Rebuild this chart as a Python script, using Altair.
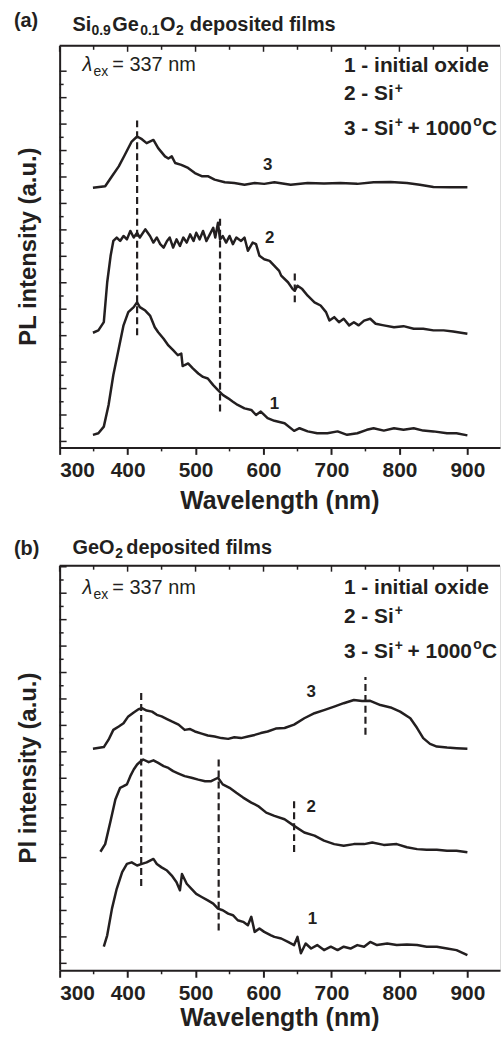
import altair as alt
import pandas as pd

INK = "#231f20"
FONT = "Liberation Sans"

# ---------------- panel (a): Si0.9Ge0.1O2 deposited films ----------------
a3 = [(349,9.59),(367,9.65),(377,10.03),(387,10.40),(396,10.84),(406,11.34),(414,11.53),(421,11.43),(428,11.28),(438,11.40),(445,11.09),(455,10.78),(460,10.70),(465,10.78),(470,10.53),(479,10.46),(489,10.34),(499,10.15),(509,10.03),(518,10.03),(528,9.90),(543,9.80),(557,9.77),(572,9.71),(587,9.77),(601,9.74),(616,9.80),(640,9.71),(665,9.77),(689,9.75),(713,9.77),(738,9.74),(762,9.80),(787,9.81),(811,9.77),(830,9.71),(850,9.62),(874,9.61),(900,9.61)]
a2 = [(349,4.11),(357,4.20),(365,4.51),(370,6.02),(375,7.02),(379,7.58),(384,7.71),(389,7.58),(394,7.77),(399,7.64),(404,7.96),(409,7.71),(414,7.89),(418,7.71),(426,8.02),(433,7.77),(438,7.52),(443,7.71),(448,7.46),(453,7.33),(458,7.58),(462,7.71),(467,7.33),(472,7.64),(477,7.39),(482,7.71),(487,7.52),(492,7.83),(497,7.58),(501,7.89),(506,7.64),(511,7.96),(516,7.58),(521,7.83),(526,8.08),(529,7.71),(533,8.27),(536,7.64),(540,7.77),(545,7.52),(550,7.77),(555,7.46),(560,7.71),(567,7.58),(572,7.71),(577,7.21),(584,7.52),(589,7.46),(594,7.02),(601,6.89),(609,6.83),(616,6.64),(623,6.45),(626,6.27),(636,6.02),(643,5.76),(646,5.70),(650,5.89),(657,5.76),(665,5.51),(675,5.26),(684,5.14),(692,4.89),(697,4.57),(704,4.70),(711,4.51),(718,4.64),(726,4.39),(733,4.51),(740,4.39),(748,4.57),(757,4.64),(765,4.45),(777,4.39),(792,4.32),(806,4.36),(821,4.26),(835,4.26),(850,4.20),(865,4.20),(879,4.16),(900,4.07)]
a1 = [(349,0.25),(357,0.31),(365,0.56),(372,1.38),(379,2.51),(387,3.51),(394,4.39),(401,4.89),(409,5.08),(414,5.26),(418,5.08),(426,4.95),(433,4.76),(440,4.32),(445,4.13),(453,3.88),(460,3.63),(467,3.45),(474,3.26),(479,3.32),(481,2.85),(484,2.89),(489,2.95),(496,2.76),(504,2.57),(511,2.44),(518,2.38),(526,2.13),(533,1.94),(540,1.76),(548,1.63),(555,1.50),(562,1.38),(572,1.25),(582,1.19),(589,1.00),(596,1.13),(606,0.88),(616,0.78),(631,0.69),(645,0.40),(653,0.50),(665,0.38),(679,0.31),(694,0.31),(709,0.38),(723,0.25),(738,0.31),(752,0.44),(762,0.50),(777,0.41),(792,0.50),(806,0.44),(821,0.50),(835,0.41),(850,0.38),(870,0.31),(884,0.31),(900,0.23)]
a_dashes = [(414, 4.02, 12.29), (536, 1.13, 8.53), (646, 5.26, 6.50)]
a_labels = [("3", 606, 10.45), ("2", 609, 7.71), ("1", 616, 1.43)]

# ---------------- panel (b): GeO2 deposited films ----------------
b3 = [(349,8.12),(365,8.18),(372,8.46),(379,8.83),(387,8.96),(394,9.08),(401,9.34),(409,9.49),(416,9.61),(421,9.65),(428,9.56),(436,9.52),(443,9.40),(450,9.34),(458,9.24),(465,9.15),(475,9.03),(484,8.83),(492,8.86),(499,8.77),(509,8.69),(518,8.62),(528,8.58),(538,8.52),(548,8.49),(557,8.55),(567,8.52),(577,8.58),(587,8.64),(596,8.71),(606,8.77),(618,8.88),(631,8.90),(645,9.03),(660,9.27),(675,9.46),(689,9.58),(704,9.71),(718,9.84),(733,9.96),(745,9.92),(757,9.93),(772,9.77),(787,9.68),(801,9.52),(816,9.27),(826,8.90),(835,8.52),(845,8.30),(855,8.20),(870,8.16),(884,8.14),(900,8.12)]
b2 = [(360,4.22),(367,4.51),(375,5.39),(382,6.20),(389,6.64),(394,6.70),(399,6.77),(404,7.08),(409,7.33),(414,7.52),(419,7.64),(423,7.71),(431,7.61),(438,7.68),(445,7.58),(453,7.46),(460,7.39),(467,7.27),(475,7.18),(484,7.08),(494,7.02),(504,6.95),(514,6.89),(523,6.89),(533,7.02),(540,6.77),(550,6.64),(560,6.45),(570,6.27),(582,6.08),(592,5.95),(604,5.70),(616,5.58),(631,5.45),(645,5.20),(660,4.95),(675,4.83),(689,4.64),(704,4.51),(718,4.45),(733,4.51),(748,4.51),(760,4.57),(777,4.48),(796,4.51),(811,4.39),(826,4.32),(840,4.30),(855,4.30),(870,4.26),(884,4.26),(900,4.20)]
b1 = [(365,0.63),(370,1.06),(377,2.07),(384,2.82),(392,3.45),(399,3.76),(406,3.82),(414,3.70),(421,3.76),(428,3.82),(438,3.95),(443,3.76),(450,3.63),(458,3.51),(465,3.32),(472,3.07),(477,2.76),(480,3.38),(487,3.01),(494,2.82),(501,2.63),(509,2.51),(518,2.38),(526,2.26),(533,2.07),(540,2.01),(548,1.88),(555,1.82),(562,1.63),(570,1.57),(577,1.44),(582,1.76),(587,1.19),(594,1.32),(601,1.19),(611,1.06),(616,1.00),(626,0.94),(636,0.81),(645,0.69),(650,1.00),(655,0.38),(662,0.75),(670,0.56),(679,0.69),(689,0.50),(699,0.63),(709,0.50),(718,0.63),(728,0.56),(738,0.69),(748,0.63),(757,0.81),(767,0.69),(782,0.75),(796,0.69),(811,0.71),(826,0.69),(840,0.63),(855,0.63),(870,0.56),(884,0.50),(900,0.31)]
b_dashes = [(420, 2.93, 10.34), (534, 1.24, 7.82), (645, 4.21, 6.28), (750, 8.65, 10.83)]
b_labels = [("3", 670, 10.26), ("2", 670, 5.90), ("1", 672, 1.69)]

# axis tick values
x_major = [300, 400, 500, 600, 700, 800, 900]
x_minor = [350, 450, 550, 650, 750, 850]

W = 443
XDOM = [300, 948]
one = pd.DataFrame({"k": [0]})


def txt(s, x, y, size, weight="bold", align="left", baseline="alphabetic", style="normal", angle=0):
    kw = dict(text=s, fontSize=size, fontWeight=weight, font=FONT, color=INK,
              align=align, baseline=baseline, fontStyle=style)
    if angle:
        kw["angle"] = angle
    return alt.Chart(one).mark_text(**kw).encode(x=alt.value(x), y=alt.value(y))


def panel(curves, dashes, labels, h, ydom, ymax_tick, letter, letter_base,
          head_parts, head_base, ytitle, lam_base, leg_bases, xtitle_base):
    def X(f):
        return alt.X(f, type="quantitative",
                     scale=alt.Scale(domain=XDOM, nice=False, zero=False),
                     axis=alt.Axis(values=x_major, tickSize=7, tickWidth=2, domainWidth=2,
                                   tickColor=INK, domainColor=INK, labelColor=INK,
                                   labelFontSize=21, labelFontWeight="bold", labelFont=FONT,
                                   labelPadding=5, title=None, grid=False, format="d"))

    def Y(f):
        return alt.Y(f, type="quantitative",
                     scale=alt.Scale(domain=ydom, nice=False, zero=False),
                     axis=alt.Axis(labels=False, ticks=False, title=None, grid=False,
                                   domainWidth=2, domainColor=INK))

    rows = []
    for name, pts in curves:
        for w, v in pts:
            rows.append({"wl": w, "pl": v, "curve": name})
    df = pd.DataFrame(rows)
    lines = alt.Chart(df).mark_line(color=INK, strokeWidth=2.5, strokeJoin="round").encode(
        x=X("wl"), y=Y("pl"), detail="curve:N")

    ddf = pd.DataFrame(dashes, columns=["wl", "v0", "v1"])
    dash = alt.Chart(ddf).mark_rule(color=INK, strokeWidth=2.2, strokeDash=[7, 4]).encode(
        x=X("wl"), y=Y("v0"), y2="v1:Q")

    ldf = pd.DataFrame(labels, columns=["t", "wl", "v"])
    lab = alt.Chart(ldf).mark_text(fontSize=17, fontWeight="bold", font=FONT, color=INK,
                                   align="center", baseline="middle").encode(
        x=X("wl"), y=Y("v"), text="t:N")

    maj = pd.DataFrame({"v": [float(i) for i in range(0, ymax_tick + 1)]})
    mnr = pd.DataFrame({"v": [i + 0.5 for i in range(0, ymax_tick)]})
    ytm = alt.Chart(maj).mark_rule(color=INK, strokeWidth=1.5).encode(
        y=Y("v"), x=alt.value(0), x2=alt.value(7))
    ytn = alt.Chart(mnr).mark_rule(color=INK, strokeWidth=1.5).encode(
        y=Y("v"), x=alt.value(0), x2=alt.value(4))

    topmaj = alt.Chart(pd.DataFrame({"wl": x_major})).mark_rule(color=INK, strokeWidth=1.5).encode(
        x=X("wl"), y=alt.value(0), y2=alt.value(6))
    topmin = alt.Chart(pd.DataFrame({"wl": x_minor})).mark_rule(color=INK, strokeWidth=1.5).encode(
        x=X("wl"), y=alt.value(0), y2=alt.value(4))
    botmin = alt.Chart(pd.DataFrame({"wl": x_minor})).mark_rule(color=INK, strokeWidth=1.5).encode(
        x=X("wl"), y=alt.value(h), y2=alt.value(h + 4))
    border = alt.Chart(one).mark_rule(color=INK, strokeWidth=2).encode(
        x=alt.value(0), x2=alt.value(W), y=alt.value(0))

    layers = [lines, dash, lab, ytm, ytn, topmaj, topmin, botmin, border]
    layers.append(txt(letter, -46, letter_base, 20))
    for s, x, dy, size in head_parts:
        layers.append(txt(s, x, head_base + dy, size))
    # lambda_ex = 337 nm
    layers.append(txt("λ", 23, lam_base, 20, weight="normal", style="italic"))
    layers.append(txt("ex", 34, lam_base + 5, 14, weight="normal"))
    layers.append(txt("= 337 nm", 53, lam_base, 20, weight="normal"))
    # legend
    l1, l2, l3 = leg_bases
    layers.append(txt("1 - initial oxide", 286, l1, 21))
    layers.append(txt("2 - Si", 286, l2, 21))
    layers.append(txt("+", 337, l2 - 8, 14))
    layers.append(txt("3 - Si", 286, l3, 21))
    layers.append(txt("+", 337, l3 - 8, 14))
    layers.append(txt("+ 1000", 350, l3, 21))
    layers.append(txt("o", 416, l3 - 9, 14))
    layers.append(txt("C", 425, l3, 21))
    layers.append(txt(ytitle, -31, h / 2, 24, align="center", baseline="middle", angle=270))
    layers.append(txt("Wavelength (nm)", W / 2, xtitle_base, 25, align="center"))
    return alt.layer(*layers).properties(width=W, height=h)


pa = panel([("1", a1), ("2", a2), ("3", a3)], a_dashes, a_labels, 404, [-0.226, 14.96], 14,
           "(a)", -19,
           [("Si", 13, 0, 20), ("0.9", 32, 4, 14), ("Ge", 53, 0, 20), ("0.1", 81, 4, 14),
            ("O", 101, 0, 20), ("2", 117, 4, 14), ("deposited films", 131, 0, 20)], -15,
           "PL intensity (a.u.)", 25, [26, 55, 90], 466)
pb = panel([("1", b1), ("2", b2), ("3", b3)], b_dashes, b_labels, 407, [-0.263, 15.04], 15,
           "(b)", -11,
           [("GeO", 13, 0, 20), ("2", 56, 4, 14), ("deposited films", 67, 0, 20)], -12,
           "Pl intensity (a.u.)", 28, [28, 58, 93], 463)

chart = alt.vconcat(pa, pb, spacing=119).properties(
    bounds="flush",
    padding={"left": 13, "top": 7, "right": 0, "bottom": 0},
).configure_view(stroke=None).configure(background="white")

chart.save("out.html", embed_options={"renderer": "svg", "actions": False})
